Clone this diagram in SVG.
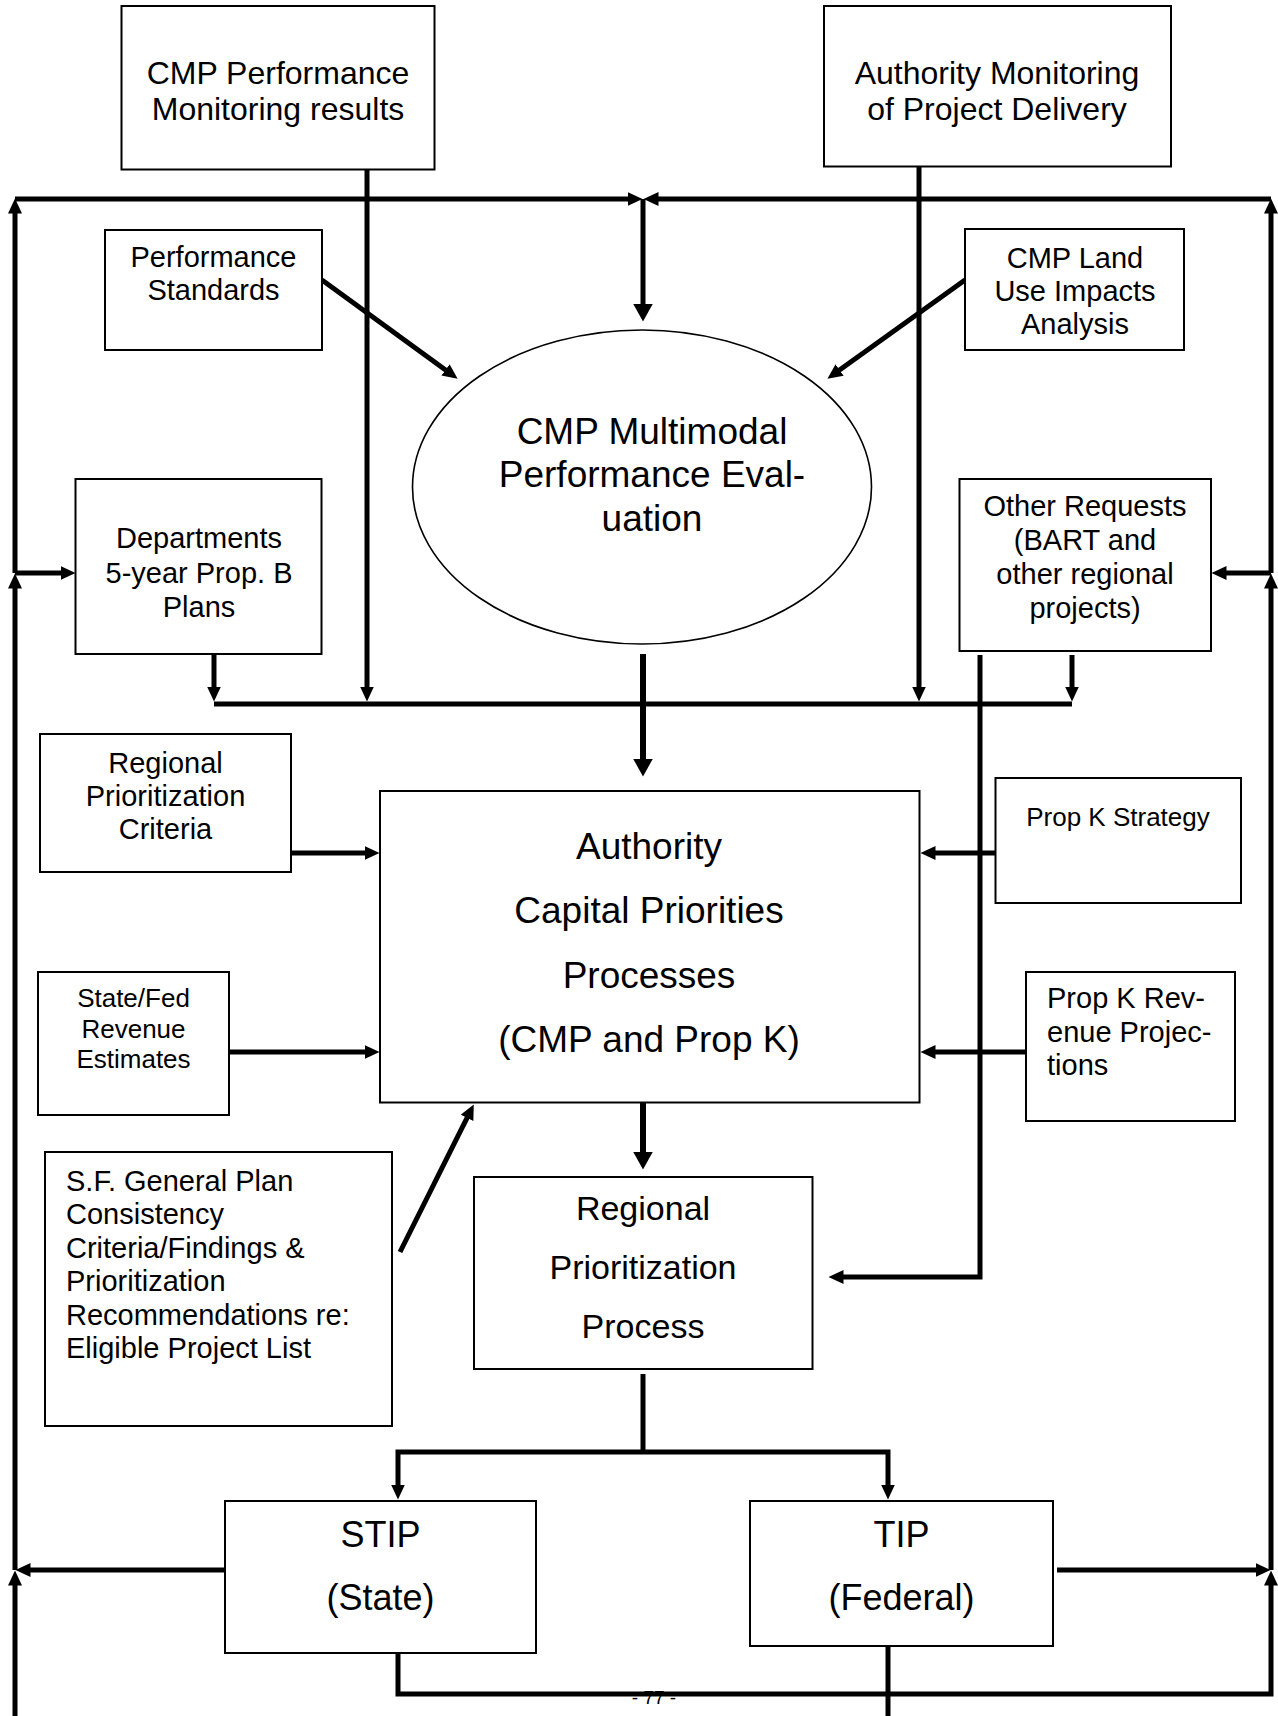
<svg xmlns="http://www.w3.org/2000/svg" width="1278" height="1716" viewBox="0 0 1278 1716">
<style>
.box{fill:#fff;stroke:#000;stroke-width:2}
.t{font-family:"Liberation Sans",Arial,Helvetica,sans-serif;fill:#000}
.c{text-anchor:middle}
.s26{font-size:26px}.s29{font-size:29px}.s32{font-size:32px}.s34{font-size:34px}.s36{font-size:36px}.s37{font-size:37px}
.ln{fill:none;stroke:#000;stroke-width:5}
.lnb{fill:none;stroke:#000;stroke-width:6}
.a{marker-end:url(#ah)}
.ab{marker-end:url(#ahb)}
</style>
<defs>
<marker id="ah" markerUnits="userSpaceOnUse" markerWidth="16" markerHeight="15" refX="0.5" refY="7" orient="auto">
<path d="M0,0 L15,7 L0,14 z" fill="#000"/>
</marker>
<marker id="ahb" markerUnits="userSpaceOnUse" markerWidth="19" markerHeight="21" refX="0.5" refY="10" orient="auto">
<path d="M0,0 L18,10 L0,20 z" fill="#000"/>
</marker>
</defs>
<rect width="1278" height="1716" fill="#fff"/>
<text class="t c" x="654" y="1704" font-size="19">- 77 -</text>
<g id="connectors">
<path class="ln a" d="M15,199 H628"/>
<path class="ln a" d="M1271,199 H658"/>
<path class="ln ab" d="M643,199 V304"/>
<path class="ln a" d="M15,573 V213"/>
<path class="ln a" d="M15,1570 V588"/>
<path class="ln a" d="M15,1716 V1585"/>
<path class="ln a" d="M15,573 H61"/>
<path class="ln a" d="M225,1570 H30"/>
<path class="ln a" d="M1271,573 V213"/>
<path class="ln a" d="M1271,1570 V588"/>
<path class="ln a" d="M398,1653 V1694 H1271 V1585"/>
<path class="ln a" d="M1271,573 H1226"/>
<path class="ln a" d="M1057,1570 H1256"/>
<path class="ln a" d="M367,170 V687"/>
<path class="ln a" d="M919,167 V687"/>
<path class="ln a" d="M214,654 V687"/>
<path class="ln a" d="M1072,655 V687"/>
<path class="ln" d="M214,704 H1072"/>
<path class="lnb ab" d="M643,654 V759"/>
<path class="ln a" d="M322,280 L445.9,370.2"/>
<path class="ln a" d="M965,280 L839.2,370.3"/>
<path class="ln a" d="M291,853 H365"/>
<path class="ln a" d="M229,1052 H365"/>
<path class="ln a" d="M996,853 H935"/>
<path class="ln a" d="M1026,1052 H935"/>
<path class="ln a" d="M980,655 V1277 H843"/>
<path class="ln a" d="M400,1252 L467.3,1117.4"/>
<path class="lnb ab" d="M643,1102 V1152"/>
<path class="ln" d="M643,1374 V1452"/>
<path class="ln a" d="M643,1452 H398 V1485"/>
<path class="ln a" d="M643,1452 H888 V1485"/>
<path class="ln" d="M888,1646 V1716"/>
</g>
<g id="n1"><rect class="box" x="121.5" y="6" width="313" height="163.5"/>
<text class="t c s32" x="278" y="84">CMP Performance</text><text class="t c s32" x="278" y="120">Monitoring results</text></g>
<g id="n2"><rect class="box" x="824" y="6" width="347" height="160.5"/>
<text class="t c s32" x="997" y="84">Authority Monitoring</text><text class="t c s32" x="997" y="120">of Project Delivery</text></g>
<g id="n3"><rect class="box" x="105" y="230" width="217" height="120"/>
<text class="t c s29" x="213.5" y="267">Performance</text><text class="t c s29" x="213.5" y="300">Standards</text></g>
<g id="n4"><rect class="box" x="965" y="229" width="219" height="121"/>
<text class="t c s29" x="1075" y="268">CMP Land</text><text class="t c s29" x="1075" y="301">Use Impacts</text><text class="t c s29" x="1075" y="334">Analysis</text></g>
<g id="n5"><ellipse cx="642" cy="487" rx="229.5" ry="157" fill="#fff" stroke="#000" stroke-width="1.6"/>
<text class="t c s37" x="652" y="444">CMP Multimodal</text><text class="t c s37" x="652" y="487">Performance Eval-</text><text class="t c s37" x="652" y="531">uation</text></g>
<g id="n6"><rect class="box" x="75.5" y="479" width="246" height="175"/>
<text class="t c s29" x="199" y="548">Departments</text><text class="t c s29" x="199" y="583">5-year Prop. B</text><text class="t c s29" x="199" y="617">Plans</text></g>
<g id="n7"><rect class="box" x="959.5" y="479" width="251.5" height="172"/>
<text class="t c s29" x="1085" y="516">Other Requests</text><text class="t c s29" x="1085" y="550">(BART and</text><text class="t c s29" x="1085" y="584">other regional</text><text class="t c s29" x="1085" y="618">projects)</text></g>
<g id="n8"><rect class="box" x="40" y="734" width="251" height="138"/>
<text class="t c s29" x="165.5" y="773">Regional</text><text class="t c s29" x="165.5" y="806">Prioritization</text><text class="t c s29" x="165.5" y="839">Criteria</text></g>
<g id="n9"><rect class="box" x="380" y="791" width="539.5" height="311.5"/>
<text class="t c s37" x="649" y="859">Authority</text><text class="t c s37" x="649" y="923">Capital Priorities</text><text class="t c s37" x="649" y="988">Processes</text><text class="t c s37" x="649" y="1052">(CMP and Prop K)</text></g>
<g id="n10"><rect class="box" x="995.5" y="778" width="245.5" height="125"/>
<text class="t c s26" x="1118" y="826">Prop K Strategy</text></g>
<g id="n11"><rect class="box" x="38" y="972" width="191" height="143"/>
<text class="t c s26" x="133.5" y="1007">State/Fed</text><text class="t c s26" x="133.5" y="1038">Revenue</text><text class="t c s26" x="133.5" y="1068">Estimates</text></g>
<g id="n12"><rect class="box" x="1026" y="972" width="209" height="149"/>
<text class="t s29" x="1047" y="1008">Prop K Rev-</text><text class="t s29" x="1047" y="1042">enue Projec-</text><text class="t s29" x="1047" y="1075">tions</text></g>
<g id="n13"><rect class="box" x="45" y="1152" width="347" height="274"/>
<text class="t s29" x="66" y="1191">S.F. General Plan</text><text class="t s29" x="66" y="1224">Consistency</text><text class="t s29" x="66" y="1258">Criteria/Findings &amp;</text><text class="t s29" x="66" y="1291">Prioritization</text><text class="t s29" x="66" y="1325">Recommendations re:</text><text class="t s29" x="66" y="1358">Eligible Project List</text></g>
<g id="n14"><rect class="box" x="474" y="1177" width="338.5" height="192"/>
<text class="t c s34" x="643" y="1220">Regional</text><text class="t c s34" x="643" y="1279">Prioritization</text><text class="t c s34" x="643" y="1338">Process</text></g>
<g id="n15"><rect class="box" x="225" y="1501" width="311" height="152"/>
<text class="t c s36" x="380.5" y="1547">STIP</text><text class="t c s36" x="380.5" y="1610">(State)</text></g>
<g id="n16"><rect class="box" x="750" y="1501" width="303" height="145"/>
<text class="t c s36" x="901.5" y="1547">TIP</text><text class="t c s36" x="901.5" y="1610">(Federal)</text></g>
</svg>
